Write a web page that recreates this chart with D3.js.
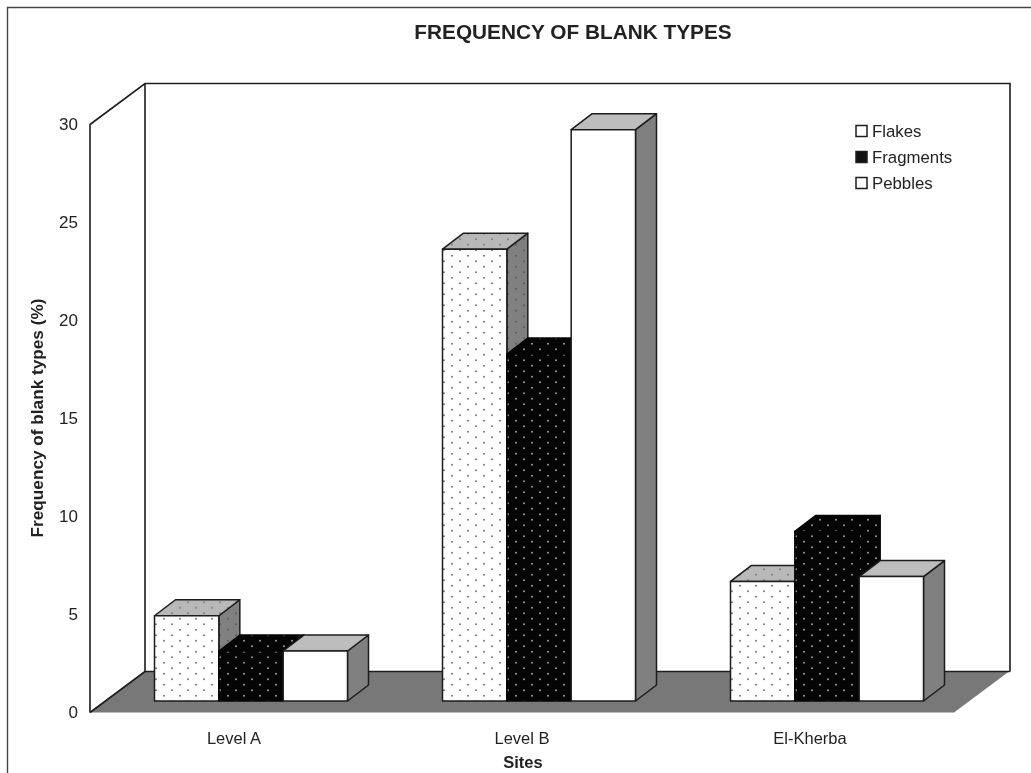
<!DOCTYPE html>
<html><head><meta charset="utf-8">
<script src="https://cdn.jsdelivr.net/npm/d3@7/dist/d3.min.js"></script>
<style>
html,body{margin:0;padding:0;background:#fff}
svg{display:block;filter:blur(0.5px)}
text{font-family:"Liberation Sans",Arial,sans-serif;fill:#222}
</style></head><body><svg id="c" width="1031" height="773"></svg>
<script>
const sites = ["Level A","Level B","El-Kherba"];
const seriesNames = ["Flakes","Fragments","Pebbles"];
const flakes = [4.35,23.05,6.1];
const fragments = [2.55,17.7,8.65];
const pebbles = [2.55,29.15,6.35];
const yTicks = [0,5,10,15,20,25,30];

const svg = d3.select("#c");
const ink = "#1c1c1c";
const x0 = 90, x1 = 954, y0 = 712.5, y30 = 124.5;
const wallDx = 55, wallDy = -41, barDx = 21, barDy = -16, barLift = 11.5;
const x = d3.scaleBand().domain(sites).range([x0, x1]);
const xs = d3.scaleBand().domain(seriesNames).range([64.5, 257.5]);
const y = d3.scaleLinear().domain([0,30]).range([y0, y30]);

const defs = svg.append("defs");
function dots(id, bg, fg, r){
  const p = defs.append("pattern").attr("id",id).attr("patternUnits","userSpaceOnUse").attr("width",16).attr("height",11);
  p.append("rect").attr("width",16).attr("height",11).attr("fill",bg);
  [[4,2.75],[12,8.25]].forEach(c=>p.append("circle").attr("cx",c[0]).attr("cy",c[1]).attr("r",r).attr("fill",fg));
}
dots("pFlake","#fff","#666",0.9);
dots("pFrag","#050505","#999",1);
dots("pFlakeTop","#b8b8b8","#777",0.9);
dots("pFlakeSide","#808080","#555",0.9);

// outer frame (left and top only)
svg.append("path").attr("d","M7.5,773V7.5H1031").attr("fill","none").attr("stroke","#444").attr("stroke-width",1.4);

// walls and floor
const line = pts => "M"+pts.map(p=>p.join(",")).join("L")+"Z";
svg.append("path").attr("d",line([[x0,y0],[x0+wallDx,y0+wallDy],[x1+wallDx,y0+wallDy],[x1,y0]])).attr("fill","#787878");
svg.append("path").attr("d",`M${x0},${y0}V${y30}L${x0+wallDx},${y30+wallDy}H${x1+wallDx+1}V${y0+wallDy}`)
  .attr("fill","none").attr("stroke",ink).attr("stroke-width",1.6);
svg.append("path").attr("d",`M${x0},${y0}L${x0+wallDx},${y0+wallDy}V${y30+wallDy}`)
  .attr("fill","none").attr("stroke",ink).attr("stroke-width",1.6);
svg.append("path").attr("d",`M${x0+wallDx},${y0+wallDy}H${x1+wallDx+1}`)
  .attr("fill","none").attr("stroke",ink).attr("stroke-width",1.6);

// bars
const styles = {
  Flakes:{front:"url(#pFlake)",top:"url(#pFlakeTop)",side:"url(#pFlakeSide)"},
  Fragments:{front:"url(#pFrag)",top:"url(#pFrag)",side:"url(#pFrag)"},
  Pebbles:{front:"#fff",top:"#bdbdbd",side:"#808080"}
};
const values = {Flakes:flakes,Fragments:fragments,Pebbles:pebbles};
sites.forEach((s,i)=>{
  seriesNames.forEach(n=>{
    const l = x(s)+xs(n), r = l+xs.bandwidth();
    const b = y(0)-barLift, t = y(values[n][i])-barLift;
    const st = styles[n];
    const g = svg.append("g").attr("stroke",n==="Fragments"?"#050505":ink).attr("stroke-width",1.5).attr("stroke-linejoin","round");
    g.append("path").attr("d",line([[r,b],[r+barDx,b+barDy],[r+barDx,t+barDy],[r,t]])).attr("fill",st.side);
    g.append("path").attr("d",line([[l,t],[l+barDx,t+barDy],[r+barDx,t+barDy],[r,t]])).attr("fill",st.top);
    g.append("path").attr("d",line([[l,t],[r,t],[r,b],[l,b]])).attr("fill",st.front);
  });
});

// axes
const ax = d3.axisLeft(y).tickValues(yTicks).tickSize(0).tickPadding(12);
const gy = svg.append("g").attr("transform",`translate(${x0},0)`).call(ax);
gy.select(".domain").remove();
gy.selectAll("text").attr("font-size",17).style("font-family",'"Liberation Sans",Arial,sans-serif').attr("fill","#222");
const bx = d3.axisBottom(x).tickSize(0).tickPadding(0);
const gx = svg.append("g").attr("transform","translate(0,732)").call(bx);
gx.select(".domain").remove();
gx.selectAll("text").attr("font-size",16.5).style("font-family",'"Liberation Sans",Arial,sans-serif').attr("fill","#222");

// titles
svg.append("text").attr("x",573).attr("y",38.5).attr("text-anchor","middle").attr("font-size",20.8).attr("font-weight","bold").text("FREQUENCY OF BLANK TYPES");
svg.append("text").attr("x",523).attr("y",767.5).attr("text-anchor","middle").attr("font-size",16.5).attr("font-weight","bold").text("Sites");
svg.append("text").attr("transform","translate(43,418) rotate(-90)").attr("text-anchor","middle").attr("font-size",17.2).attr("font-weight","bold").text("Frequency of blank types (%)");

// legend
const lg = d3.scalePoint().domain(seriesNames).range([131,183]);
seriesNames.forEach(n=>{
  svg.append("rect").attr("x",856).attr("y",lg(n)-5.5).attr("width",11).attr("height",11)
    .attr("fill",n==="Fragments"?"#111":"#fff").attr("stroke",ink).attr("stroke-width",1.5);
  svg.append("text").attr("x",872).attr("y",lg(n)+6).attr("font-size",16.8).text(n);
});
</script></body></html>
